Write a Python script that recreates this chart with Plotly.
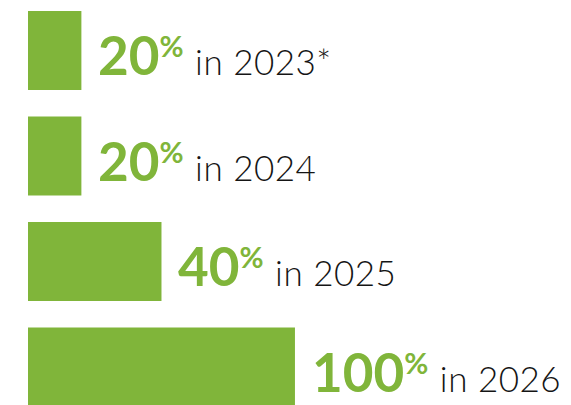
import plotly.graph_objects as go

years = ["2023", "2024", "2025", "2026"]
bar_lengths = [20, 20, 50, 100]
percent_labels = [20, 20, 40, 100]
suffixes = ["*", "", "", ""]

GREEN = "#80b53a"
DARK = "#151515"

fig = go.Figure()
fig.add_trace(go.Bar(
    y=years, x=bar_lengths, orientation="h",
    marker=dict(color=GREEN, line=dict(width=0)),
    width=0.75, hoverinfo="skip",
))

for i, (y, v, p, s) in enumerate(zip(years, bar_lengths, percent_labels, suffixes)):
    txt = (f"<span style='font-weight:bold;font-size:53px;color:{GREEN}'>{p}</span>"
           f"<span style='font-weight:bold;font-size:42px;color:{GREEN}'><sup>%</sup></span>"
           f"<span style='font-size:35px;color:{DARK};font-weight:300;letter-spacing:2px'> </span>"
           f"<span style='font-size:35px;color:{DARK};font-weight:300;letter-spacing:0.5px'>in {y}{s}</span>")
    fig.add_annotation(x=v, y=i, text=txt, showarrow=False, xanchor="left",
                       yanchor="middle", xshift=15, yshift=-4,
                       font=dict(family="Lato", size=35, color=DARK))

fig.update_layout(
    width=563, height=397,
    margin=dict(l=20, r=0, t=0, b=0),
    paper_bgcolor="white", plot_bgcolor="white",
    showlegend=False,
    xaxis=dict(range=[0, 203.4], visible=False, fixedrange=True),
    yaxis=dict(type="category", range=[3.36, -0.403], visible=False, fixedrange=True),
)

fig.write_html("out.html")
